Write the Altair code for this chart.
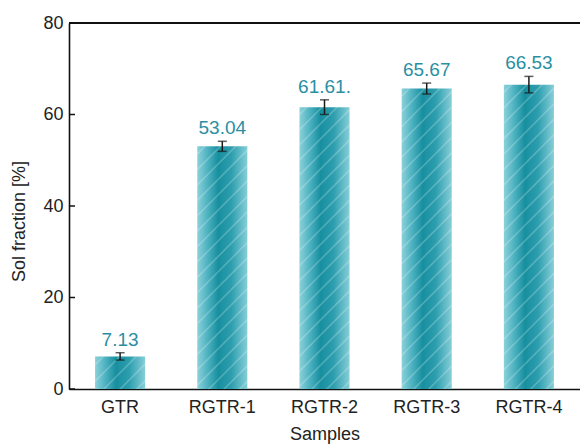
import math
import altair as alt
import pandas as pd

samples = ["GTR", "RGTR-1", "RGTR-2", "RGTR-3", "RGTR-4"]
values = [7.13, 53.04, 61.61, 65.67, 66.53]
errors = [0.8, 1.1, 1.6, 1.2, 1.8]
labels = ["7.13", "53.04", "61.61.", "65.67", "66.53"]
y_ticks = [0, 20, 40, 60, 80]

df = pd.DataFrame({
    "Samples": samples,
    "value": values,
    "err": errors,
    "label": labels,
})
df["lo"] = df["value"] - df["err"]
df["hi"] = df["value"] + df["err"]
ticks_df = pd.DataFrame({"t": y_ticks})

FONT = "Liberation Sans"
W, H = 511, 366
Y_MAX = 80
P_INNER, P_OUTER = 0.51, 0.255
STEP = W / (len(samples) - P_INNER + 2 * P_OUTER)
BAR_W = STEP * (1 - P_INNER)

xscale = alt.Scale(domain=samples, paddingInner=P_INNER, paddingOuter=P_OUTER)
yscale = alt.Scale(domain=[0, Y_MAX], nice=False)

x_enc = alt.X("Samples:N", scale=xscale, sort=samples,
              axis=alt.Axis(title="Samples", labelAngle=0, ticks=False,
                            labelPadding=9, titlePadding=9,
                            labelFontSize=18, titleFontSize=18,
                            labelColor="#222222", titleColor="#222222",
                            titleFontWeight="normal",
                            domainColor="#111111", domainWidth=1.6))
y_enc = alt.Y("value:Q", scale=yscale,
              axis=alt.Axis(title="Sol fraction [%]", values=y_ticks, ticks=False,
                            grid=False, labelPadding=6, titlePadding=14,
                            titleY=198,
                            labelFontSize=18, titleFontSize=18,
                            labelColor="#222222", titleColor="#222222",
                            titleFontWeight="normal",
                            domainColor="#111111", domainWidth=1.6))

shade = alt.Gradient(
    gradient="linear", x1=0, x2=1, y1=0, y2=0,
    stops=[
        alt.GradientStop(color="#8bd1da", offset=0),
        alt.GradientStop(color="#4fb3c1", offset=0.2),
        alt.GradientStop(color="#178f9f", offset=0.42),
        alt.GradientStop(color="#2d9eae", offset=0.68),
        alt.GradientStop(color="#86ced8", offset=1),
    ],
)


def stripe_gradient(h_px, w_px, spacing=10.5, line=1.6):
    # diagonal stripes rising to the right at 45 degrees, in bounding-box units
    k = (w_px + h_px) / (w_px ** 2 + h_px ** 2)
    gx, gy = k * w_px, k * h_px
    span = (w_px + h_px) / math.sqrt(2)
    n = max(1, int(span / spacing))
    stops = []
    clear = "rgba(255,255,255,0)"
    white = "rgba(255,255,255,0.22)"
    for j in range(n):
        c = (j + 0.5) / n
        d = (line / 2) / span
        stops += [
            alt.GradientStop(color=clear, offset=max(0, c - d * 1.6)),
            alt.GradientStop(color=white, offset=max(0, c - d * 0.4)),
            alt.GradientStop(color=white, offset=min(1, c + d * 0.4)),
            alt.GradientStop(color=clear, offset=min(1, c + d * 1.6)),
        ]
    return alt.Gradient(gradient="linear", x1=0, y1=0, x2=gx, y2=gy, stops=stops)


base = alt.Chart(df)
xe = alt.X("Samples:N", scale=xscale, sort=samples)

bars = base.mark_bar(color=shade).encode(x=x_enc, y=y_enc)

stripe_layers = []
for s, v in zip(samples, values):
    h_px = v / Y_MAX * H
    stripe_layers.append(
        base.transform_filter(alt.datum.Samples == s)
        .mark_bar(color=stripe_gradient(h_px, BAR_W))
        .encode(x=xe, y=alt.Y("value:Q", scale=yscale))
    )

err_rule = base.mark_rule(color="#1a1a1a", strokeWidth=1.5).encode(
    x=xe, y=alt.Y("lo:Q", scale=yscale), y2="hi:Q",
)
cap_lo = base.mark_tick(color="#1a1a1a", thickness=1.5, size=9, orient="horizontal").encode(
    x=xe, y=alt.Y("lo:Q", scale=yscale),
)
cap_hi = base.mark_tick(color="#1a1a1a", thickness=1.5, size=9, orient="horizontal").encode(
    x=xe, y=alt.Y("hi:Q", scale=yscale),
)

text = base.mark_text(font=FONT, fontSize=19, color="#2a8fa3",
                      baseline="bottom", dy=-3).encode(
    x=xe, y=alt.Y("hi:Q", scale=yscale), text="label:N",
)

ytick_rules = alt.Chart(ticks_df).mark_rule(color="#111111", strokeWidth=1.5).encode(
    y=alt.Y("t:Q", scale=yscale),
    x=alt.value(0),
    x2=alt.value(6),
)

top_border = alt.Chart(ticks_df).mark_rule(color="#111111", strokeWidth=1.6).encode(
    y=alt.datum(Y_MAX),
    x=alt.value(0),
    x2=alt.value(W),
)

chart = alt.layer(bars, *stripe_layers, err_rule, cap_lo, cap_hi, text,
                  ytick_rules, top_border).properties(
    width=W,
    height=H,
    autosize=alt.AutoSizeParams(type="none"),
    padding={"left": 69, "top": 23, "right": 0, "bottom": 55},
).configure_view(stroke=None).configure(font=FONT, background="white")

chart.save("out.html", embed_options={"renderer": "svg", "actions": False})
